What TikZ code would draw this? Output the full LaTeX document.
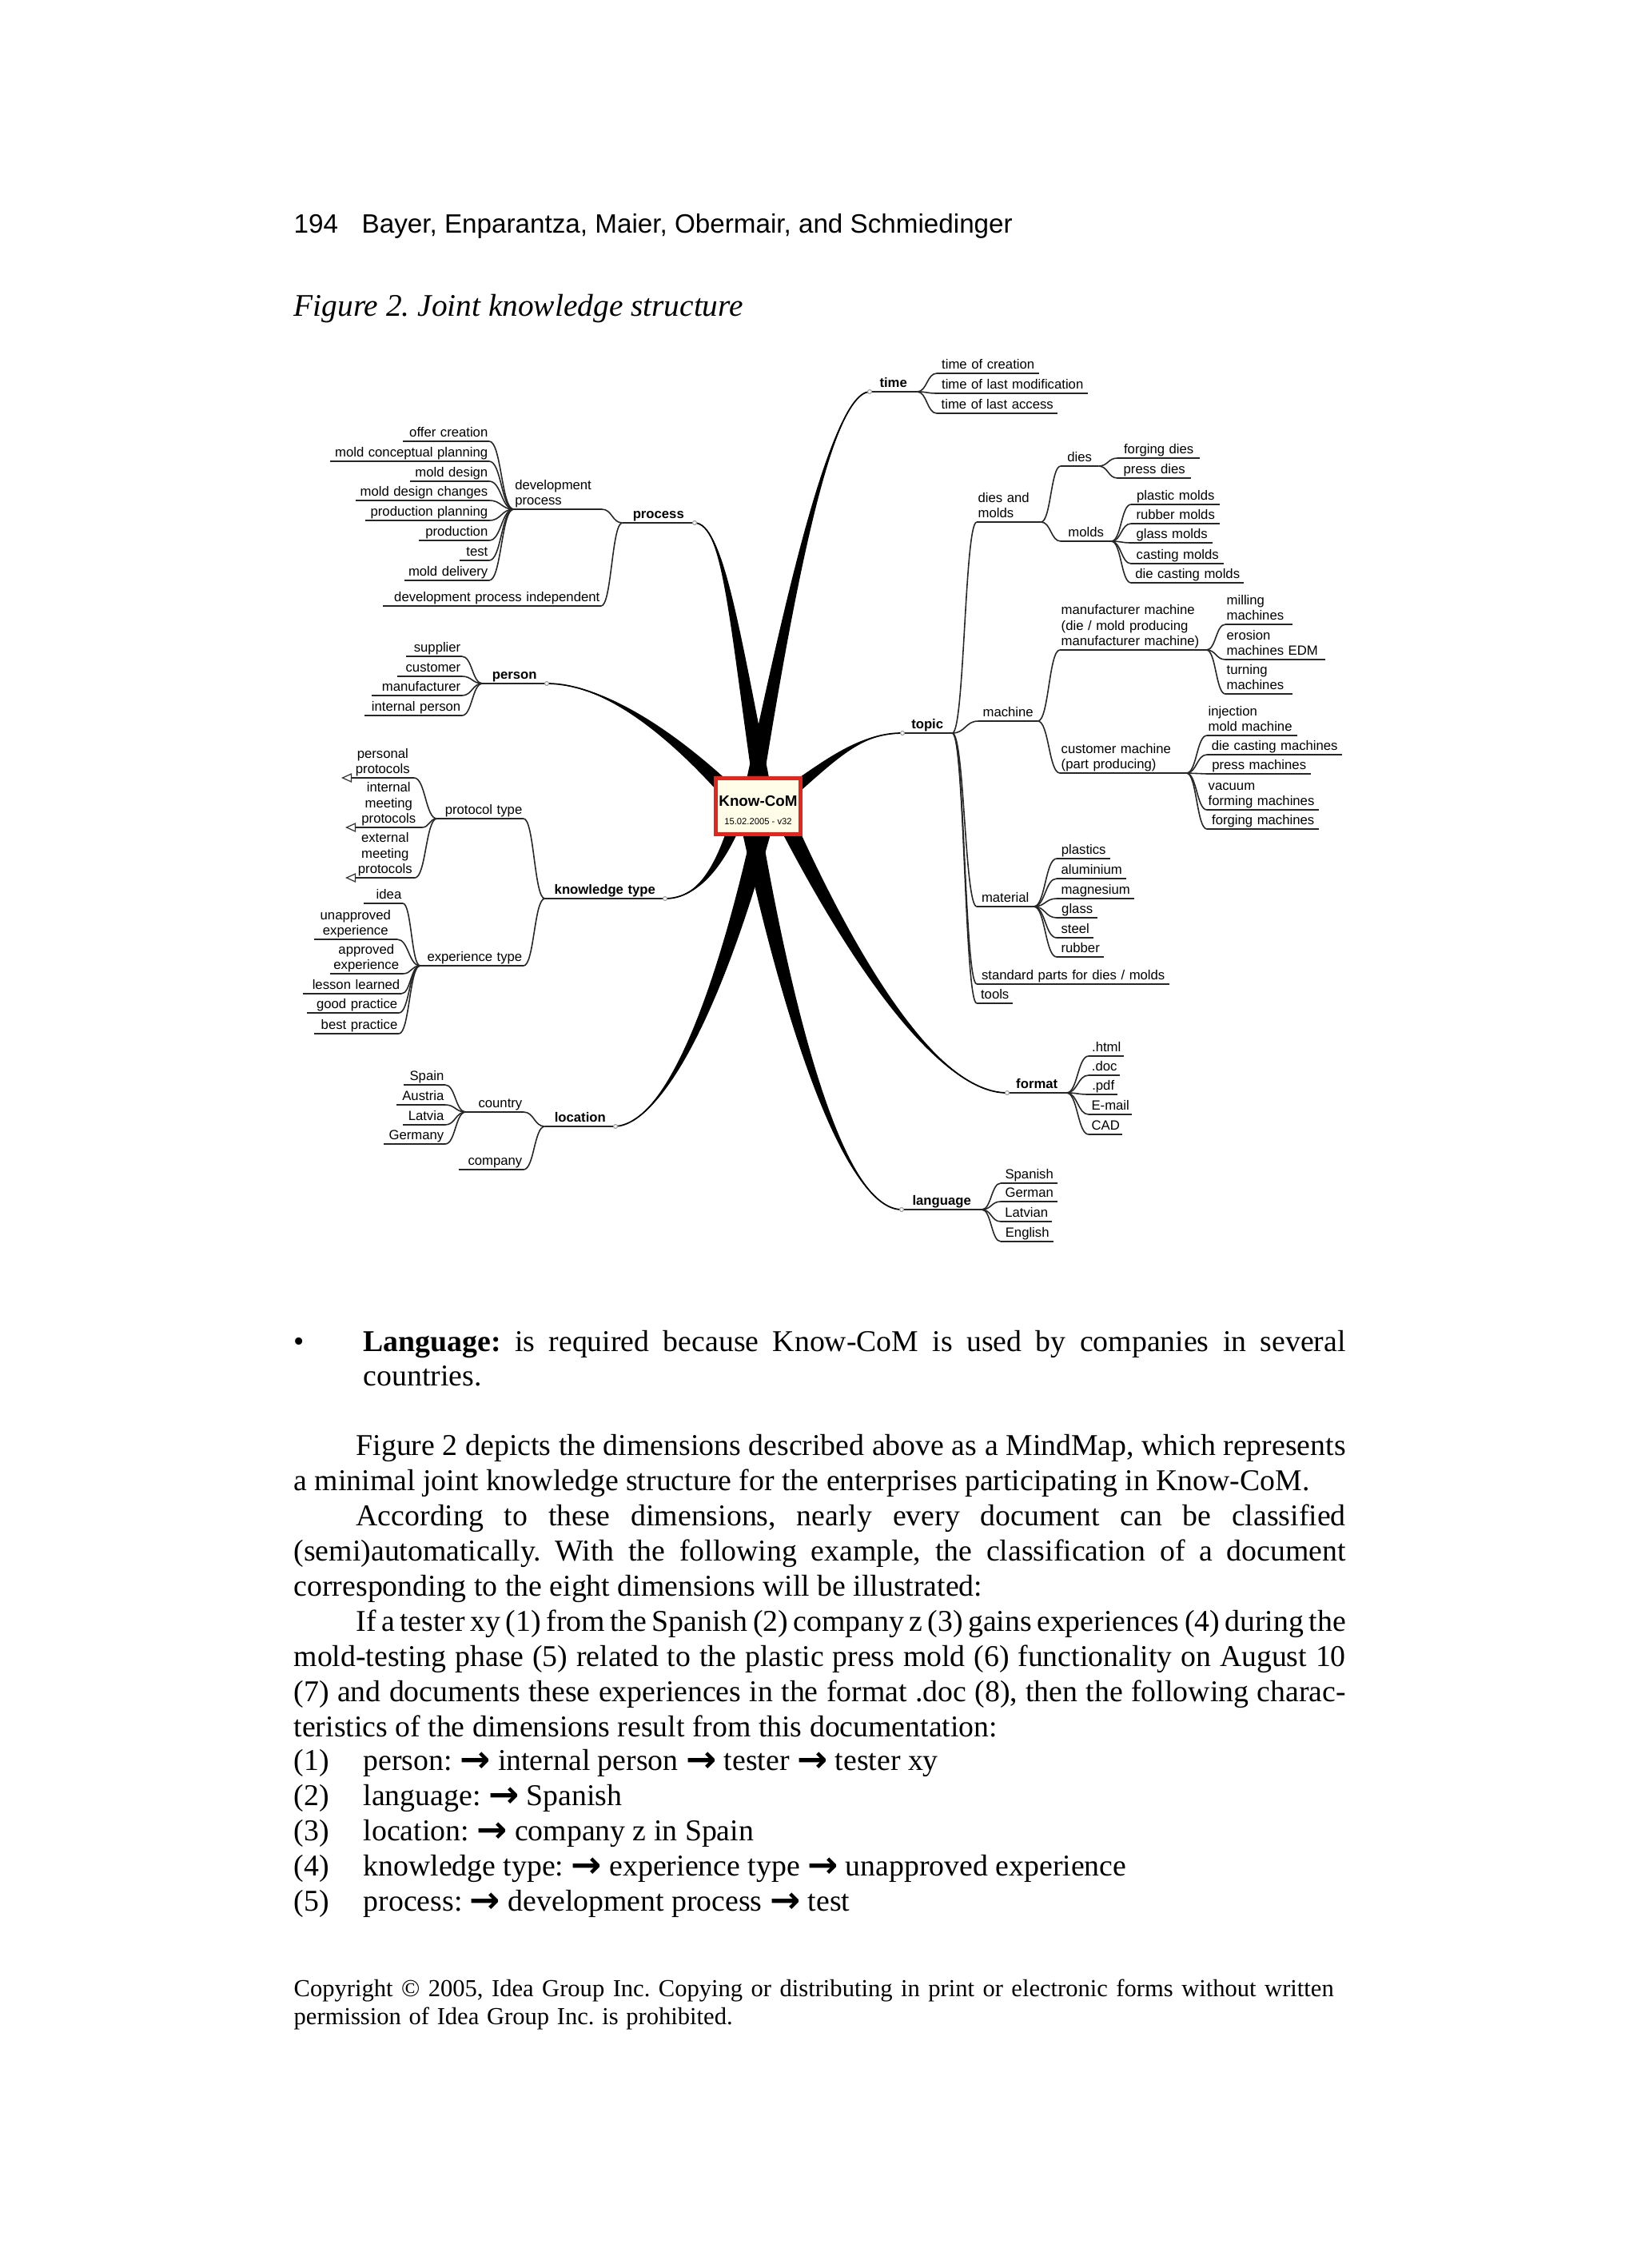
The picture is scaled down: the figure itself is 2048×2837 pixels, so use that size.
\documentclass[tikz,border=0pt]{standalone}
\usepackage{fontspec}
\setmainfont{Liberation Serif}
\newfontfamily\hv{Liberation Sans}
\newfontfamily\arw{DejaVu Sans}
\usetikzlibrary{calc}
\definecolor{kcred}{RGB}{226,38,30}
\definecolor{kccream}{RGB}{255,253,232}
\newcommand\labf{\hv\fontsize{4.75pt}{5.5pt}\selectfont\hyphenpenalty=10000 }
\tikzset{
  lab/.style={font=\labf, inner xsep=0.1mm, inner ysep=0.1mm, execute at end node={\rule[-1.05pt]{0pt}{1pt}}},
  bf/.style={font=\labf\bfseries},
  R/.style={lab, anchor=south west, align=center},
  L/.style={lab, anchor=south east, align=right},
  ul/.style={line width=0.45pt, black!85},
  con/.style={line width=0.45pt, black!85},
  fan/.style={to path={.. controls ($(\tikztostart)!0.5!(\tikztostart -| \tikztotarget)$) and ($(\tikztotarget)!0.5!(\tikztotarget -| \tikztostart)$) .. (\tikztotarget)}},
  body/.style={anchor=base west, inner sep=0, font=\fontsize{10.75pt}{12.5pt}\selectfont},
  dot/.style={draw=black!40, fill=white, line width=0.3pt},
  tri/.style={draw=black!80, fill=white, line width=0.35pt},
}
\newcommand\rnode[6]{\pgfmathsetmacro\mytw{(#3-#2-2)*0.1}\node[R,text width=\mytw mm,#5] (#1) at (#2,#4) {#6};\draw[ul] (#1.south west) -- (#1.south east);}
\newcommand\lnode[6]{\pgfmathsetmacro\mytw{(#3-#2-2)*0.1}\node[L,text width=\mytw mm,#5] (#1) at (#3,#4) {#6};\draw[ul] (#1.south west) -- (#1.south east);}
\newcommand\cright[2]{\draw[con] (#1.south east) to[fan] (#2.south west);}
\newcommand\cleft[2]{\draw[con] (#1.south west) to[fan] (#2.south east);}
\newcommand\mmbranch[5]{%
  \fill[black] let \p1=(#1), \p2=(#2), \n1={atan2(\y2-\y1,\x2-\x1)} in
    ($(#1)+({\n1+90}:{#5*1pt})$) .. controls ($(#2)+({\n1+90}:{#5*0.5pt})$) and (#3) .. (#4)
    .. controls (#3) and ($(#2)+({\n1-90}:{#5*0.5pt})$) .. ($(#1)+({\n1-90}:{#5*1pt})$) -- cycle;
  \draw[line width=0.5pt] (#1) .. controls (#2) and (#3) .. (#4);}
\newcommand\rarr{{\arw\bfseries\fontsize{13pt}{13pt}\selectfont\raisebox{-0.7pt}{→}}}
\frenchspacing
\begin{document}
\begin{tikzpicture}[x=0.1mm,y=-0.1mm]
\useasboundingbox (0,0) rectangle (2048,2837);
\fill[white] (0,0) rectangle (2048,2837);

% header and caption
\node[anchor=base west, inner sep=0, font=\hv\fontsize{9.45pt}{11pt}\selectfont] (pg) at (367,291) {194};
\node[anchor=base west, inner sep=0, font=\hv\fontsize{9.45pt}{11pt}\selectfont] (hd) at (452,291) {Bayer, Enparantza, Maier, Obermair, and Schmiedinger};
\node[anchor=base west, inner sep=0, font=\itshape\fontsize{11.2pt}{13pt}\selectfont] (cap) at (367,395) {Figure 2. Joint knowledge structure};

% ---------- first level ----------
\rnode{time}{1088}{1146}{490}{bf}{time}
\rnode{topic}{1129}{1190}{917}{bf}{topic}
\rnode{format}{1260}{1333}{1367}{bf}{format}
\rnode{language}{1128}{1227}{1513}{bf}{language}
\lnode{process}{780}{869}{654}{bf,align=center}{process}
\lnode{person}{605}{684}{855}{bf,align=center}{person}
\lnode{ktype}{683}{832}{1124}{bf,align=center}{knowledge type}
\lnode{location}{683}{770}{1409}{bf,align=center}{location}

% ---------- time ----------
\rnode{tc1}{1172}{1299}{467}{}{time of creation}
\rnode{tc2}{1172}{1360}{492}{}{time of last modification}
\rnode{tc3}{1172}{1322}{517}{}{time of last access}
\cright{time}{tc1}\cright{time}{tc2}\cright{time}{tc3}

% ---------- topic ----------
\rnode{dm}{1222}{1301}{653}{align=left}{dies and\\molds}
\rnode{dies}{1327}{1373}{583}{}{dies}
\rnode{fd}{1398}{1500}{573}{}{forging dies}
\rnode{pd}{1398}{1489}{598}{}{press dies}
\rnode{molds}{1327}{1389}{677}{}{molds}
\rnode{ml1}{1415}{1525}{631}{}{plastic molds}
\rnode{ml2}{1415}{1525}{655}{}{rubber molds}
\rnode{ml3}{1415}{1516}{679}{}{glass molds}
\rnode{ml4}{1415}{1530}{705}{}{casting molds}
\rnode{ml5}{1415}{1555}{729}{}{die casting molds}
\cright{topic}{dm}\cright{dm}{dies}\cright{dm}{molds}
\cright{dies}{fd}\cright{dies}{pd}
\cright{molds}{ml1}\cright{molds}{ml2}\cright{molds}{ml3}\cright{molds}{ml4}\cright{molds}{ml5}

\rnode{mach}{1224}{1297}{902}{}{machine}
\rnode{mm}{1326}{1508}{813}{align=left}{manufacturer machine\\(die / mold producing\\manufacturer machine)}
\rnode{mm1}{1533}{1616}{781}{align=left}{milling\\machines}
\rnode{mm2}{1533}{1657}{825}{align=left}{erosion\\machines EDM}
\rnode{mm3}{1533}{1616}{868}{align=left}{turning\\machines}
\rnode{cm}{1326}{1483}{967}{align=left}{customer machine\\(part producing)}
\rnode{cm1}{1510}{1622}{920}{align=left}{injection\\mold machine}
\rnode{cm2}{1510}{1678}{944}{}{die casting machines}
\rnode{cm3}{1510}{1639}{968}{}{press machines}
\rnode{cm4}{1510}{1649}{1013}{align=left}{vacuum\\forming machines}
\rnode{cm5}{1510}{1649}{1037}{}{forging machines}
\cright{topic}{mach}\cright{mach}{mm}\cright{mach}{cm}
\cright{mm}{mm1}\cright{mm}{mm2}\cright{mm}{mm3}
\cright{cm}{cm1}\cright{cm}{cm2}\cright{cm}{cm3}\cright{cm}{cm4}\cright{cm}{cm5}

\rnode{mat}{1222}{1292}{1134}{}{material}
\rnode{mt1}{1322}{1388}{1074}{}{plastics}
\rnode{mt2}{1322}{1408}{1099}{}{aluminium}
\rnode{mt3}{1322}{1418}{1124}{}{magnesium}
\rnode{mt4}{1322}{1372}{1148}{}{glass}
\rnode{mt5}{1322}{1367}{1173}{}{steel}
\rnode{mt6}{1322}{1380}{1197}{}{rubber}
\rnode{spd}{1222}{1462}{1231}{}{standard parts for dies / molds}
\rnode{tools}{1222}{1266}{1255}{}{tools}
\cright{topic}{mat}\cright{topic}{spd}\cright{topic}{tools}
\cright{mat}{mt1}\cright{mat}{mt2}\cright{mat}{mt3}\cright{mat}{mt4}\cright{mat}{mt5}\cright{mat}{mt6}

% ---------- format ----------
\rnode{fo1}{1362}{1405}{1321}{}{.html}
\rnode{fo2}{1362}{1400}{1345}{}{.doc}
\rnode{fo3}{1362}{1397}{1369}{}{.pdf}
\rnode{fo4}{1362}{1415}{1394}{}{E-mail}
\rnode{fo5}{1362}{1403}{1419}{}{CAD}
\cright{format}{fo1}\cright{format}{fo2}\cright{format}{fo3}\cright{format}{fo4}\cright{format}{fo5}

% ---------- language ----------
\rnode{la1}{1252}{1322}{1480}{}{Spanish}
\rnode{la2}{1252}{1322}{1503}{}{German}
\rnode{la3}{1252}{1315}{1528}{}{Latvian}
\rnode{la4}{1252}{1317}{1553}{}{English}
\cright{language}{la1}\cright{language}{la2}\cright{language}{la3}\cright{language}{la4}

% ---------- process ----------
\lnode{dp}{644}{753}{637}{align=left}{development\\process}
\lnode{pc1}{505}{612}{552}{}{offer creation}
\lnode{pc2}{414}{612}{577}{}{mold conceptual planning}
\lnode{pc3}{514}{612}{602}{}{mold design}
\lnode{pc4}{446}{612}{626}{}{mold design changes}
\lnode{pc5}{458}{612}{651}{}{production planning}
\lnode{pc6}{525}{612}{676}{}{production}
\lnode{pc7}{576}{612}{701}{}{test}
\lnode{pc8}{507}{612}{726}{}{mold delivery}
\lnode{dpi}{480}{752}{758}{}{development process independent}
\cleft{process}{dp}\cleft{process}{dpi}
\cleft{dp}{pc1}\cleft{dp}{pc2}\cleft{dp}{pc3}\cleft{dp}{pc4}
\cleft{dp}{pc5}\cleft{dp}{pc6}\cleft{dp}{pc7}\cleft{dp}{pc8}

% ---------- person ----------
\lnode{ps1}{509}{578}{821}{}{supplier}
\lnode{ps2}{498}{578}{846}{}{customer}
\lnode{ps3}{466}{578}{870}{}{manufacturer}
\lnode{ps4}{457}{578}{895}{}{internal person}
\cleft{person}{ps1}\cleft{person}{ps2}\cleft{person}{ps3}\cleft{person}{ps4}

% ---------- knowledge type ----------
\lnode{pt}{548}{655}{1024}{}{protocol type}
\lnode{pr1}{441}{518}{973}{align=center}{personal\\protocols}
\lnode{pr2}{446}{528}{1035}{align=center}{internal\\meeting\\protocols}
\lnode{pr3}{446}{519}{1098}{align=center}{external\\meeting\\protocols}
\lnode{et}{527}{655}{1208}{}{experience type}
\lnode{ex1}{456}{504}{1130}{}{idea}
\lnode{ex2}{394}{497}{1175}{align=center}{unapproved\\experience}
\lnode{ex3}{414}{504}{1218}{align=center}{approved\\experience}
\lnode{ex4}{380}{502}{1243}{}{lesson learned}
\lnode{ex5}{385}{499}{1267}{}{good practice}
\lnode{ex6}{394}{499}{1293}{}{best practice}
\cleft{ktype}{pt}\cleft{ktype}{et}
\cleft{pt}{pr1}\cleft{pt}{pr2}\cleft{pt}{pr3}
\cleft{et}{ex1}\cleft{et}{ex2}\cleft{et}{ex3}\cleft{et}{ex4}\cleft{et}{ex5}\cleft{et}{ex6}
\foreach \t in {pr1,pr2,pr3}{
  \draw[tri] ($(\t.south west)+(0,-5)$) -- ($(\t.south west)+(-11,0)$) -- ($(\t.south west)+(0,5)$) -- cycle;
}

% ---------- location ----------
\lnode{country}{584}{655}{1391}{}{country}
\lnode{co1}{506}{557}{1357}{}{Spain}
\lnode{co2}{497}{557}{1382}{}{Austria}
\lnode{co3}{505}{557}{1407}{}{Latvia}
\lnode{co4}{481}{557}{1431}{}{Germany}
\lnode{company}{575}{655}{1463}{}{company}
\cleft{location}{country}\cleft{location}{company}
\cleft{country}{co1}\cleft{country}{co2}\cleft{country}{co3}\cleft{country}{co4}

% ---------- main branches ----------
\coordinate (kcc) at (948.5,1008.5);
\coordinate (sTime) at (940,1000);
\coordinate (sProc) at (956,1000);
\coordinate (sPers) at (925,1005);
\coordinate (sTopic) at (970,1005);
\coordinate (sKt) at (925,1015);
\coordinate (sLoc) at (960,1010);
\coordinate (sLang) at (935,1010);
\coordinate (sFmt) at (975,1010);
\mmbranch{sTime}{978,800}{1035,492}{time.south west}{3.2}
\mmbranch{sProc}{918,780}{905,655}{process.south east}{3.2}
\mmbranch{sPers}{850,925}{760,855}{person.south east}{3.0}
\mmbranch{sTopic}{1040,950}{1075,917}{topic.south west}{2.6}
\mmbranch{sKt}{900,1090}{870,1124}{ktype.south east}{2.4}
\mmbranch{sLoc}{900,1260}{830,1405}{location.south east}{3.6}
\mmbranch{sLang}{990,1300}{1060,1513}{language.south west}{3.6}
\mmbranch{sFmt}{1060,1190}{1170,1367}{format.south west}{3.2}
\foreach \p in {time.south west,topic.south west,format.south west,language.south west,process.south east,person.south east,ktype.south east,location.south east}{
  \draw[dot] (\p) circle (0.7pt);
}

% ---------- central node ----------
\node[draw=kcred, fill=kccream, line width=1.45pt, minimum width=10.6mm, minimum height=7.0mm, inner sep=0] (kc) at (kcc) {};
\node[font=\hv\bfseries\fontsize{5.35pt}{6pt}\selectfont, anchor=base, inner sep=0] (kct) at (948.5,1008) {Know-CoM};
\node[font=\hv\fontsize{3.2pt}{4pt}\selectfont, anchor=base, inner sep=0] (kcd) at (948.5,1031) {15.02.2005 - v32};

% ---------- body text ----------
\node[body] (bul) at (367,1690) {•};
\node[body] (l1) at (454,1690) {\makebox[122.9mm][s]{\textbf{Language:} is required because Know-CoM is used by companies in several}};
\node[body] (l2) at (454,1733) {countries.};
\node[body] (l3) at (445,1820) {\makebox[123.8mm][s]{Figure 2 depicts the dimensions described above as a MindMap, which represents}};
\node[body] (l4) at (367,1864) {a minimal joint knowledge structure for the enterprises participating in Know-CoM.};
\node[body] (l5) at (445,1908) {\makebox[123.8mm][s]{According to these dimensions, nearly every document can be classified}};
\node[body] (l6) at (367,1952) {\makebox[131.6mm][s]{(semi)automatically. With the following example, the classification of a document}};
\node[body] (l7) at (367,1996) {corresponding to the eight dimensions will be illustrated:};
\node[body] (l8) at (445,2040) {\makebox[123.8mm][s]{If a tester xy (1) from the Spanish (2) company z (3) gains experiences (4) during the}};
\node[body] (l9) at (367,2084) {\makebox[131.6mm][s]{mold-testing phase (5) related to the plastic press mold (6) functionality on August 10}};
\node[body] (l10) at (367,2128) {\makebox[131.6mm][s]{(7) and documents these experiences in the format .doc (8), then the following charac-}};
\node[body] (l11) at (367,2172) {teristics of the dimensions result from this documentation:};
\node[body] (n1) at (367,2214) {(1)};
\node[body] (i1) at (454,2214) {person: \rarr\ internal person \rarr\ tester \rarr\ tester xy};
\node[body] (n2) at (367,2258) {(2)};
\node[body] (i2) at (454,2258) {language: \rarr\ Spanish};
\node[body] (n3) at (367,2302) {(3)};
\node[body] (i3) at (454,2302) {location: \rarr\ company z in Spain};
\node[body] (n4) at (367,2346) {(4)};
\node[body] (i4) at (454,2346) {knowledge type: \rarr\ experience type \rarr\ unapproved experience};
\node[body] (n5) at (367,2390) {(5)};
\node[body] (i5) at (454,2390) {process: \rarr\ development process \rarr\ test};
\node[body, font=\fontsize{8.7pt}{10pt}\selectfont] (cp1) at (367,2497) {\makebox[130.1mm][s]{Copyright © 2005, Idea Group Inc. Copying or distributing in print or electronic forms without written}};
\node[body, font=\fontsize{8.7pt}{10pt}\selectfont] (cp2) at (367,2532) {\makebox[54.9mm][s]{permission of Idea Group Inc. is prohibited.}};
\end{tikzpicture}
\end{document}
